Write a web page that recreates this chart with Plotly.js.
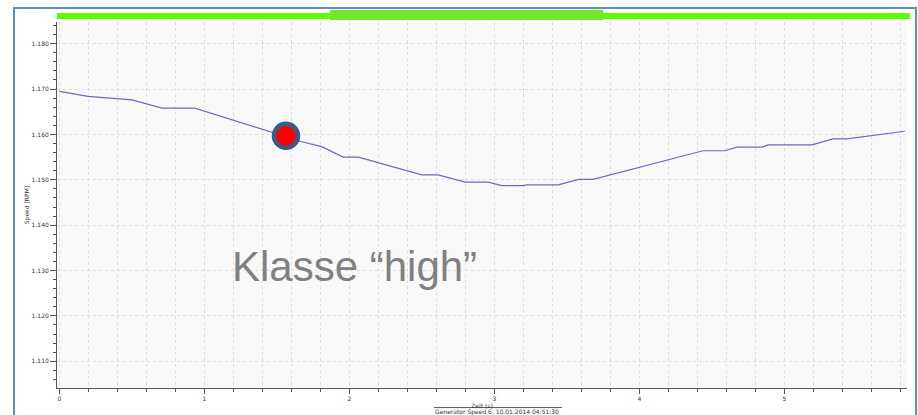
<!DOCTYPE html>
<html>
<head>
<meta charset="utf-8">
<script src="https://cdn.plot.ly/plotly-3.0.1.min.js"></script>
<style>html,body{margin:0;padding:0;background:#fff;}#chart{width:918px;height:415px;}</style>
</head>
<body>
<div id="chart"></div>
<script>
// Time in seconds and generator speed
const timeS = [0, 0.197, 0.50, 0.707, 0.934, 1.659, 1.808, 1.957, 2.061, 2.498, 2.612, 2.797, 2.957, 3.050, 3.199, 3.222, 3.440, 3.580, 3.680, 4.210, 4.438, 4.590, 4.672, 4.845, 4.886, 5.190, 5.334, 5.430, 5.830];
const speed = [1.1695, 1.1684, 1.1676, 1.1658, 1.1658, 1.1585, 1.1573, 1.1550, 1.1550, 1.1511, 1.1511, 1.1495, 1.1495, 1.1487, 1.1487, 1.1489, 1.1489, 1.1501, 1.1501, 1.1544, 1.1564, 1.1564, 1.1572, 1.1572, 1.1577, 1.1577, 1.1590, 1.1590, 1.1607];
// Highlighted point
const markT = [1.562];
const markV = [1.1597];
const yTickVals = [1.11, 1.12, 1.13, 1.14, 1.15, 1.16, 1.17, 1.18];
const yTickText = ["1.110", "1.120", "1.130", "1.140", "1.150", "1.160", "1.170", "1.180"];
const xTickVals = [0, 1, 2, 3, 4, 5];
const xTickText = ["0", "1", "2", "3", "4", "5"];
const labelText = "Klasse \u201chigh\u201d";
const xTitle = "Zeit (s)";
const yTitle = "Speed [RPM]";
const subTitle = "Generator Speed 6, 10.01.2014 04:51:30";

const smallFont = {family: "DejaVu Sans", size: 6, color: "#333333"};

const traces = [
  {x: timeS, y: speed, type: "scatter", mode: "lines",
   line: {color: "#6b6bbd", width: 1.2}, hoverinfo: "skip", showlegend: false},
  {x: markT, y: markV, type: "scatter", mode: "markers",
   marker: {size: 24, color: "#ff0000", line: {color: "#3a5a8a", width: 4.5}}, showlegend: false}
];

const layout = {
  width: 918, height: 415,
  margin: {l: 57, r: 11, t: 22, b: 27, pad: 0},
  paper_bgcolor: "#ffffff",
  plot_bgcolor: "#f9f9f9",
  showlegend: false,
  xaxis: {
    range: [-0.0172, 5.845], autorange: false,
    tickvals: xTickVals, ticktext: xTickText,
    ticks: "outside", ticklen: 5, tickcolor: "#555", tickwidth: 1,
    showline: true, linecolor: "#555", linewidth: 1,
    showgrid: true, gridcolor: "#dedede", griddash: "dot", gridwidth: 1,
    zeroline: false,
    minor: {dtick: 0.2, tick0: 0, ticks: "outside", ticklen: 3, tickcolor: "#555", showgrid: true, gridcolor: "#dedede", griddash: "dot"},
    tickfont: smallFont,
    title: {text: xTitle, font: smallFont, standoff: 0}
  },
  yaxis: {
    range: [1.10411, 1.18478], autorange: false,
    tickvals: yTickVals, ticktext: yTickText,
    ticks: "outside", ticklen: 6, tickcolor: "#555", tickwidth: 1,
    showline: true, linecolor: "#555", linewidth: 1,
    showgrid: true, gridcolor: "#dedede", griddash: "dot", gridwidth: 1,
    zeroline: false,
    minor: {dtick: 0.002, tick0: 1.1, ticks: "outside", ticklen: 3, tickcolor: "#555", showgrid: false},
    tickfont: smallFont,
    title: {text: yTitle, font: smallFont, standoff: 1}
  },
  shapes: [
    {type: "rect", xref: "paper", yref: "paper", x0: -0.0506, x1: 1.0106, y0: -0.1, y1: 1.0383,
     line: {color: "#5f8ccb", width: 2}, fillcolor: "rgba(0,0,0,0)", layer: "below"},
    {type: "rect", xref: "paper", yref: "paper", x0: 0, x1: 1.0035, y0: 1.0082, y1: 1.0246,
     line: {width: 0}, fillcolor: "#5cff00"},
    {type: "rect", xref: "paper", yref: "paper", x0: 0.3212, x1: 0.6424, y0: 1.0055, y1: 1.0328,
     line: {width: 0}, fillcolor: "#74e628"},
    {type: "line", xref: "paper", yref: "paper", x0: 0.4435, x1: 0.5941, y0: -0.0535, y1: -0.0535,
     line: {color: "#555", width: 1}}
  ],
  annotations: [
    {text: labelText, xref: "paper", yref: "paper", x: 0.2036, y: 0.332, xanchor: "left", yanchor: "middle",
     showarrow: false, font: {family: "Liberation Sans, Arial", size: 42, color: "#808080"}},
    {text: subTitle, xref: "paper", yref: "paper", x: 0.5176, y: -0.0645, xanchor: "center", yanchor: "middle",
     showarrow: false, font: smallFont}
  ]
};

Plotly.newPlot("chart", traces, layout, {displayModeBar: false, staticPlot: true});
</script>
</body>
</html>
